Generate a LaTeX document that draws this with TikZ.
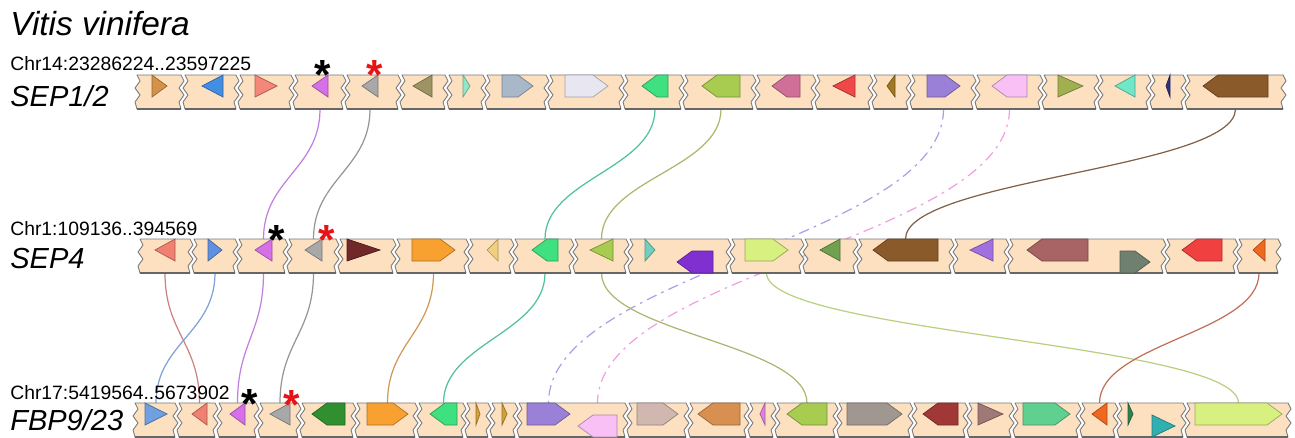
\documentclass[tikz,border=0pt]{standalone}
\usepackage{fontspec}
\setmainfont{Liberation Sans}
\usetikzlibrary{positioning}
\definecolor{barpeach}{RGB}{253,224,192}
\definecolor{bargray}{RGB}{120,120,120}
\definecolor{starred}{RGB}{230,20,20}
% gene colours
\definecolor{tanorange}{RGB}{212,145,74}
\definecolor{skyblue}{RGB}{66,142,226}
\definecolor{salmon}{RGB}{244,135,122}
\definecolor{salmontwo}{RGB}{240,128,112}
\definecolor{orchid}{RGB}{214,112,232}
\definecolor{silver}{RGB}{168,168,168}
\definecolor{khaki}{RGB}{156,148,100}
\definecolor{mint}{RGB}{144,232,200}
\definecolor{steel}{RGB}{168,184,200}
\definecolor{lavender}{RGB}{232,230,240}
\definecolor{emerald}{RGB}{62,224,128}
\definecolor{lime}{RGB}{168,204,80}
\definecolor{rose}{RGB}{208,112,152}
\definecolor{scarlet}{RGB}{240,72,72}
\definecolor{ochre}{RGB}{160,122,32}
\definecolor{amethyst}{RGB}{155,128,216}
\definecolor{blush}{RGB}{248,192,244}
\definecolor{moss}{RGB}{160,176,80}
\definecolor{aqua}{RGB}{112,232,200}
\definecolor{navy}{RGB}{48,48,128}
\definecolor{umber}{RGB}{139,90,43}
\definecolor{cornflower}{RGB}{96,144,224}
\definecolor{cornlight}{RGB}{112,160,224}
\definecolor{maroon}{RGB}{112,40,40}
\definecolor{orange}{RGB}{248,160,48}
\definecolor{sand}{RGB}{240,208,128}
\definecolor{teal}{RGB}{112,208,192}
\definecolor{violet}{RGB}{128,48,208}
\definecolor{palelime}{RGB}{216,240,128}
\definecolor{fern}{RGB}{112,160,80}
\definecolor{purple}{RGB}{160,112,224}
\definecolor{mauve}{RGB}{168,100,100}
\definecolor{slate}{RGB}{112,128,112}
\definecolor{red}{RGB}{240,64,64}
\definecolor{tangerine}{RGB}{240,104,32}
\definecolor{forest}{RGB}{48,144,48}
\definecolor{gold}{RGB}{212,160,56}
\definecolor{taupe}{RGB}{208,184,176}
\definecolor{copper}{RGB}{216,144,80}
\definecolor{pinkthin}{RGB}{224,128,224}
\definecolor{stone}{RGB}{160,152,144}
\definecolor{brick}{RGB}{160,56,56}
\definecolor{rosybrown}{RGB}{160,120,120}
\definecolor{jade}{RGB}{96,208,144}
\definecolor{pine}{RGB}{48,128,80}
\definecolor{cyan}{RGB}{48,176,176}
% link colours
\definecolor{lkviolet}{RGB}{192,128,224}
\definecolor{lkgray}{RGB}{150,150,150}
\definecolor{lkteal}{RGB}{80,192,160}
\definecolor{lkolive}{RGB}{168,184,112}
\definecolor{lkbrown}{RGB}{128,96,72}
\definecolor{lklav}{RGB}{168,160,232}
\definecolor{lkpink}{RGB}{240,160,224}
\definecolor{lksalmon}{RGB}{208,128,128}
\definecolor{lkblue}{RGB}{128,160,216}
\definecolor{lkorange}{RGB}{208,152,88}
\definecolor{lklime}{RGB}{184,208,128}
\definecolor{lkrust}{RGB}{192,112,88}

\pgfdeclarelayer{background}
\pgfsetlayers{background,main}

\newcommand{\trk}{75}
% one piece of a chromosome bar, wavy at both ends
\newcommand{\seg}[2]{%
  \filldraw[segbox] (#1,\trk) -- (#2,\trk) -- ++(3,6) -- ++(-5,7) -- ++(5,7) -- ++(-5,7) -- ++(2,7)
    -- (#1,\trk+34) -- ++(-2,-7) -- ++(5,-7) -- ++(-5,-7) -- ++(5,-7) -- cycle;
  \draw[segfoot] (#1,\trk+34) -- (#2,\trk+34);}
% genes: name, x1, x2, drop, colour
\newcommand{\triR}[5]{%
  \filldraw[gene=#5] (#2,\trk+#4) -- (#3,\trk+#4+11) -- (#2,\trk+#4+22) -- cycle;
  \coordinate (#1t) at ({(#2+#3)/2},\trk);
  \coordinate (#1b) at ({(#2+#3)/2},\trk+34);}
\newcommand{\triL}[5]{%
  \filldraw[gene=#5] (#3,\trk+#4) -- (#2,\trk+#4+11) -- (#3,\trk+#4+22) -- cycle;
  \coordinate (#1t) at ({(#2+#3)/2},\trk);
  \coordinate (#1b) at ({(#2+#3)/2},\trk+34);}
\newcommand{\pentR}[5]{%
  \filldraw[gene=#5] (#2,\trk+#4) -- (#3-15,\trk+#4) -- (#3,\trk+#4+11) -- (#3-15,\trk+#4+22) -- (#2,\trk+#4+22) -- cycle;
  \coordinate (#1t) at ({(#2+#3)/2},\trk);
  \coordinate (#1b) at ({(#2+#3)/2},\trk+34);}
\newcommand{\pentL}[5]{%
  \filldraw[gene=#5] (#3,\trk+#4) -- (#2+15,\trk+#4) -- (#2,\trk+#4+11) -- (#2+15,\trk+#4+22) -- (#3,\trk+#4+22) -- cycle;
  \coordinate (#1t) at ({(#2+#3)/2},\trk);
  \coordinate (#1b) at ({(#2+#3)/2},\trk+34);}

\begin{document}
\begin{tikzpicture}[x=0.02cm, y=-0.02cm,
  segbox/.style={fill=barpeach, draw=bargray, line width=0.5pt, line join=round},
  segfoot/.style={draw=black!60, line width=1.1pt},
  gene/.style={fill=#1, draw=#1!70!black, line width=0.4pt},
  link/.style={line width=0.7pt},
  dlink/.style={line width=0.7pt, dash pattern=on 6pt off 3pt on 1.5pt off 3pt},
  star/.style={font=\fontsize{24}{24}\selectfont\bfseries, inner sep=0pt, anchor=base},
  chrlab/.style={font=\fontsize{11}{12}\selectfont, inner sep=0pt, anchor=base west},
  genelab/.style={font=\fontsize{16.5}{18}\selectfont\itshape, inner sep=0pt, anchor=base west},
]
\useasboundingbox (0,0) rectangle (1295,437);

% Labels
\node[font=\fontsize{19}{21}\selectfont\itshape, inner sep=0pt, anchor=base west] (title) at (10,35) {Vitis vinifera};
\node[chrlab] (chra) at (10,70) {Chr14:23286224..23597225};
\node[genelab] (laba) at (10,106) {SEP1/2};
\node[chrlab] (chrb) at (10,235) {Chr1:109136..394569};
\node[genelab] (labb) at (10,268) {SEP4};
\node[chrlab] (chrc) at (10,399) {Chr17:5419564..5673902};
\node[genelab] (labc) at (10,430) {FBP9/23};

% SEP1/2
\renewcommand{\trk}{75}
\foreach \a/\b in {137/181, 185/236, 240/291, 295/343, 347/398, 402/445, 449/483, 487/546, 550/621, 625/681,
  685/753, 757/813, 817/870, 874/908, 912/973, 977/1040, 1044/1096, 1100/1148, 1152/1183, 1187/1283} {\seg{\a}{\b}}
\triR{a1}{152}{167}{0}{tanorange}
\triL{a2}{202}{223}{0}{skyblue}
\triR{a3}{255}{277}{0}{salmon}
\triL{a4}{312}{328}{0}{orchid}
\triL{a5}{362}{378}{0}{silver}
\triL{a6}{413}{432}{0}{khaki}
\triR{a7}{463}{470}{0}{mint}
\pentR{a8}{502}{533}{0}{steel}
\pentR{a9}{565}{608}{0}{lavender}
\pentL{a10}{642}{668}{0}{emerald}
\pentL{a11}{702}{740}{0}{lime}
\pentL{a12}{772}{800}{0}{rose}
\triL{a13}{833}{855}{0}{scarlet}
\triL{a14}{887}{895}{0}{ochre}
\pentR{a15}{927}{960}{0}{amethyst}
\pentL{a16}{992}{1027}{0}{blush}
\triR{a17}{1058}{1083}{0}{moss}
\triL{a18}{1115}{1135}{0}{aqua}
\triL{a19}{1166}{1170}{0}{navy}
\pentL{a20}{1203}{1268}{0}{umber}
\node[star] (sa1) at (323,89) {*};
\node[star, text=starred] (sa2) at (375,89) {*};

% SEP4
\renewcommand{\trk}{239}
\foreach \a/\b in {140/190, 194/235, 239/285, 289/336, 340/393, 397/466, 470/511, 515/571, 575/626, 630/728,
  732/801, 805/855, 859/951, 955/1006, 1010/1163, 1167/1235, 1239/1278} {\seg{\a}{\b}}
\triL{b1}{155}{175}{0}{salmontwo}
\triR{b2}{208}{222}{0}{cornflower}
\triL{b3}{255}{272}{0}{orchid}
\triL{b4}{305}{322}{0}{silver}
\triR{b5}{347}{380}{0}{maroon}
\pentR{b6}{412}{455}{0}{orange}
\triL{b7}{487}{498}{0}{sand}
\pentL{b8}{532}{558}{0}{emerald}
\triL{b9}{590}{613}{0}{lime}
\triR{b10}{645}{655}{0}{teal}
\pentL{b11}{677}{713}{12}{violet}
\pentR{b12}{745}{788}{0}{palelime}
\triL{b13}{820}{840}{0}{fern}
\pentL{b14}{873}{938}{0}{umber}
\triL{b15}{970}{993}{0}{purple}
\pentL{b16}{1027}{1088}{0}{mauve}
\pentR{b17}{1120}{1150}{12}{slate}
\pentL{b18}{1182}{1222}{0}{red}
\triL{b19}{1253}{1265}{0}{tangerine}
\node[star] (sb1) at (277,254) {*};
\node[star, text=starred] (sb2) at (327,254) {*};

% FBP9/23
\renewcommand{\trk}{403}
\foreach \a/\b in {135/175, 179/215, 219/256, 260/298, 302/353, 357/415, 419/463, 467/488, 492/515, 519/625, 629/686,
  690/746, 750/773, 777/835, 839/910, 914/965, 969/1011, 1015/1078, 1082/1115, 1119/1183, 1187/1288} {\seg{\a}{\b}}
\triR{c1}{145}{167}{0}{cornlight}
\triL{c2}{192}{207}{0}{salmontwo}
\triL{c3}{230}{245}{0}{orchid}
\triL{c4}{270}{290}{0}{silver}
\pentL{c5}{312}{345}{0}{forest}
\pentR{c6}{367}{408}{0}{orange}
\pentL{c7}{430}{457}{0}{emerald}
\triR{c8}{476}{480}{0}{gold}
\triR{c9}{502}{507}{0}{gold}
\pentR{c10}{527}{570}{0}{amethyst}
\pentL{c11}{578}{617}{12}{blush}
\pentR{c12}{637}{678}{0}{taupe}
\pentL{c13}{698}{740}{0}{copper}
\triL{c14}{760}{765}{0}{pinkthin}
\pentL{c15}{787}{827}{0}{lime}
\pentR{c16}{847}{902}{0}{stone}
\pentL{c17}{923}{958}{0}{brick}
\triR{c18}{978}{1003}{0}{rosybrown}
\pentR{c19}{1023}{1070}{0}{jade}
\triL{c20}{1092}{1107}{0}{tangerine}
\triR{c21}{1128}{1133}{0}{pine}
\triR{c22}{1152}{1175}{12}{cyan}
\pentR{c23}{1195}{1282}{0}{palelime}
\node[star] (sc1) at (250,418) {*};
\node[star, text=starred] (sc2) at (292,419) {*};

% Syntenic links
\begin{pgfonlayer}{background}
\draw[link, lkviolet] (a4b) .. controls +(0,60) and +(0,-60) .. (b3t);
\draw[link, lkgray] (a5b) .. controls +(0,60) and +(0,-60) .. (b4t);
\draw[link, lkteal] (a10b) .. controls +(0,60) and +(0,-60) .. (b8t);
\draw[link, lkolive] (a11b) .. controls +(0,60) and +(0,-60) .. (b9t);
\draw[link, lkbrown] (a20b) .. controls +(0,60) and +(0,-60) .. (b14t);
\draw[dlink, lklav] (a15b) .. controls +(0,130) and +(0,-130) .. (c10t);
\draw[dlink, lkpink] (a16b) .. controls +(0,130) and +(0,-130) .. (c11t);
\draw[link, lksalmon] (b1b) .. controls +(0,60) and +(0,-60) .. (c2t);
\draw[link, lkblue] (b2b) .. controls +(0,60) and +(0,-60) .. (c1t);
\draw[link, lkviolet] (b3b) .. controls +(0,60) and +(0,-60) .. (c3t);
\draw[link, lkgray] (b4b) .. controls +(0,60) and +(0,-60) .. (c4t);
\draw[link, lkorange] (b6b) .. controls +(0,60) and +(0,-60) .. (c6t);
\draw[link, lkteal] (b8b) .. controls +(0,60) and +(0,-60) .. (c7t);
\draw[link, lkolive] (b9b) .. controls +(0,60) and +(0,-60) .. (c15t);
\draw[link, lklime] (b12b) .. controls +(0,60) and +(0,-60) .. (c23t);
\draw[link, lkrust] (b19b) .. controls +(0,60) and +(0,-60) .. (c20t);
\end{pgfonlayer}
\end{tikzpicture}
\end{document}
